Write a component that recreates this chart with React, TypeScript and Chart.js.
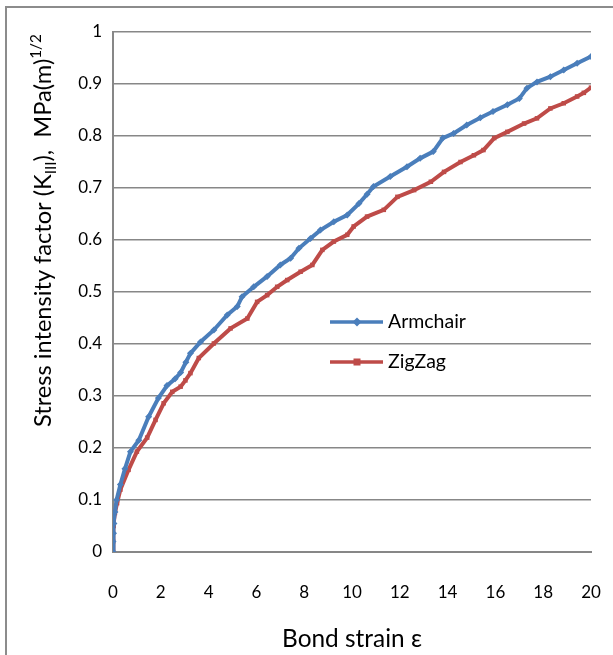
import React, { useEffect, useRef } from "react";
import { Chart, registerables } from "chart.js";

Chart.register(...registerables);

const armX = [0, 0, 0.02, 0.04, 0.08, 0.15, 0.31, 0.5, 0.73, 1.08, 1.49, 1.9, 2.26, 2.6, 2.83, 3.05, 3.24, 3.66, 4.22, 4.78, 5.2, 5.4, 5.89, 6.45, 7.0, 7.43, 7.78, 8.26, 8.68, 9.24, 9.8, 10.29, 10.63, 10.9, 11.6, 12.3, 12.85, 13.4, 13.8, 14.25, 14.8, 15.37, 15.9, 16.5, 17.0, 17.32, 17.74, 18.3, 18.86, 19.42, 20];
const armY = [0, 0.02, 0.036, 0.055, 0.077, 0.1, 0.13, 0.16, 0.193, 0.215, 0.26, 0.296, 0.32, 0.333, 0.345, 0.365, 0.382, 0.404, 0.427, 0.456, 0.472, 0.491, 0.51, 0.53, 0.552, 0.565, 0.584, 0.603, 0.619, 0.635, 0.648, 0.67, 0.688, 0.703, 0.722, 0.741, 0.757, 0.77, 0.796, 0.805, 0.821, 0.835, 0.847, 0.86, 0.872, 0.892, 0.904, 0.914, 0.927, 0.94, 0.953];

const zzX = [0, 0, 0.03, 0.08, 0.17, 0.31, 0.65, 1.0, 1.43, 1.78, 2.12, 2.48, 2.83, 3.03, 3.24, 3.59, 4.22, 4.92, 5.62, 6.03, 6.45, 6.87, 7.29, 7.85, 8.34, 8.76, 9.24, 9.8, 10.07, 10.63, 11.33, 11.9, 12.6, 13.3, 13.85, 14.54, 15.1, 15.5, 15.95, 16.5, 17.2, 17.74, 18.3, 18.86, 19.42, 19.7, 20];
const zzY = [0, 0.02, 0.05, 0.075, 0.094, 0.12, 0.158, 0.193, 0.22, 0.254, 0.286, 0.308, 0.318, 0.33, 0.344, 0.373, 0.401, 0.43, 0.449, 0.481, 0.494, 0.51, 0.523, 0.539, 0.552, 0.581, 0.597, 0.61, 0.626, 0.645, 0.658, 0.683, 0.696, 0.712, 0.731, 0.75, 0.763, 0.773, 0.796, 0.808, 0.824, 0.834, 0.853, 0.863, 0.876, 0.883, 0.893];

const seriesNames = ["Armchair", "ZigZag"];
const xTitle = "Bond strain ε";
const yTitleParts = ["Stress intensity factor (K", "III", "),  MPa(m)", "1/2"];

const FONT = "Lato, 'Open Sans', sans-serif";
const BLUE = "#4a7ebb";
const RED = "#be4b48";
const GRID = "#878787";

const decorPlugin = {
  id: "decor",
  afterDraw(chart: any) {
    const ctx = chart.ctx;
    const area = chart.chartArea;
    ctx.save();
    // outer frame
    ctx.strokeStyle = "#8c8c8c";
    ctx.lineWidth = 2;
    ctx.strokeRect(6, 7, 700, 700);

    // x title, fitted to the reference width
    ctx.fillStyle = "#000";
    ctx.font = `20px ${FONT}`;
    const xw = ctx.measureText(xTitle).width;
    const xs = (20 * 140) / xw;
    ctx.font = `${xs}px ${FONT}`;
    ctx.textAlign = "center";
    ctx.textBaseline = "alphabetic";
    ctx.fillText(xTitle, (area.left + area.right) / 2, 647);

    // y title (rotated), fitted to reference length
    const measure = (size: number) => {
      ctx.font = `${size}px ${FONT}`;
      const a = ctx.measureText(yTitleParts[0]).width + ctx.measureText(yTitleParts[2]).width;
      ctx.font = `${size * 0.65}px ${FONT}`;
      const b = ctx.measureText(yTitleParts[1]).width + ctx.measureText(yTitleParts[3]).width;
      return a + b;
    };
    const ys = (20 * 393) / measure(20);
    ctx.save();
    ctx.translate(51, 427);
    ctx.rotate(-Math.PI / 2);
    ctx.textAlign = "left";
    ctx.textBaseline = "alphabetic";
    let xPos = 0;
    const big = `${ys}px ${FONT}`;
    const small = `${ys * 0.65}px ${FONT}`;
    ctx.font = big;
    ctx.fillText(yTitleParts[0], xPos, 0);
    xPos += ctx.measureText(yTitleParts[0]).width;
    ctx.font = small;
    ctx.fillText(yTitleParts[1], xPos, ys * 0.22);
    xPos += ctx.measureText(yTitleParts[1]).width;
    ctx.font = big;
    ctx.fillText(yTitleParts[2], xPos, 0);
    xPos += ctx.measureText(yTitleParts[2]).width;
    ctx.font = small;
    ctx.fillText(yTitleParts[3], xPos, -ys * 0.42);
    ctx.restore();

    // legend
    const entries = chart.data.datasets;
    const ly = [322, 362];
    entries.forEach((d: any, i: number) => {
      const y = ly[i];
      ctx.strokeStyle = d.borderColor;
      ctx.lineWidth = 3.5;
      ctx.beginPath();
      ctx.moveTo(330, y);
      ctx.lineTo(383, y);
      ctx.stroke();
      ctx.fillStyle = d.borderColor;
      const cx = 357;
      if (d.pointStyle === "rectRot") {
        ctx.beginPath();
        ctx.moveTo(cx, y - 4.5);
        ctx.lineTo(cx + 4.5, y);
        ctx.lineTo(cx, y + 4.5);
        ctx.lineTo(cx - 4.5, y);
        ctx.closePath();
        ctx.fill();
      } else {
        ctx.fillRect(cx - 3.5, y - 3.5, 7, 7);
      }
      ctx.fillStyle = "#000";
      ctx.font = `19.5px ${FONT}`;
      ctx.textAlign = "left";
      ctx.textBaseline = "middle";
      ctx.fillText(d.label, 388, y);
    });
    ctx.restore();
  },
};

export default function App() {
  const ref = useRef<HTMLCanvasElement | null>(null);
  useEffect(() => {
    document.body.style.margin = "0";
    const canvas = ref.current;
    if (!canvas) return;
    const chart = new Chart(canvas, {
      type: "line",
      data: {
        datasets: [
          {
            label: seriesNames[0],
            data: armX.map((x, i) => ({ x, y: armY[i] })),
            borderColor: BLUE,
            backgroundColor: BLUE,
            borderWidth: 4,
            pointStyle: "rectRot",
            pointRadius: 3.5,
            pointBorderWidth: 0,
            tension: 0,
          },
          {
            label: seriesNames[1],
            data: zzX.map((x, i) => ({ x, y: zzY[i] })),
            borderColor: RED,
            backgroundColor: RED,
            borderWidth: 4,
            pointStyle: "rect",
            pointRadius: 3.2,
            pointBorderWidth: 0,
            tension: 0,
          },
        ],
      },
      options: {
        responsive: false,
        animation: false,
        events: [],
        layout: { padding: { left: 0, right: 22, top: 32, bottom: 0 } },
        plugins: { legend: { display: false }, tooltip: { enabled: false } },
        scales: {
          x: {
            type: "linear",
            min: 0,
            max: 20,
            grid: { display: false, drawTicks: false },
            border: { display: true, color: GRID, width: 2 },
            ticks: {
              stepSize: 2,
              padding: 30,
              color: "#000",
              font: { family: FONT, size: 17 },
              maxRotation: 0,
            },
            afterFit(scale: any) {
              scale.height = 655 - 552;
              scale.paddingRight = 10;
              scale.paddingLeft = 10;
            },
          },
          y: {
            min: 0,
            max: 1,
            grid: { color: GRID, lineWidth: 1.5, drawTicks: false },
            border: { display: true, color: GRID, width: 2 },
            ticks: {
              stepSize: 0.1,
              padding: 11,
              color: "#000",
              font: { family: FONT, size: 17 },
              callback: (v: any) => String(Math.round(Number(v) * 10) / 10),
            },
            afterFit(scale: any) {
              scale.width = 113;
            },
          },
        },
      },
      plugins: [decorPlugin],
    } as any);
    return () => chart.destroy();
  }, []);
  return (
    <div style={{ width: 613, height: 655, background: "#fff" }}>
      <canvas ref={ref} width={613} height={655} style={{ display: "block" }} />
    </div>
  );
}
